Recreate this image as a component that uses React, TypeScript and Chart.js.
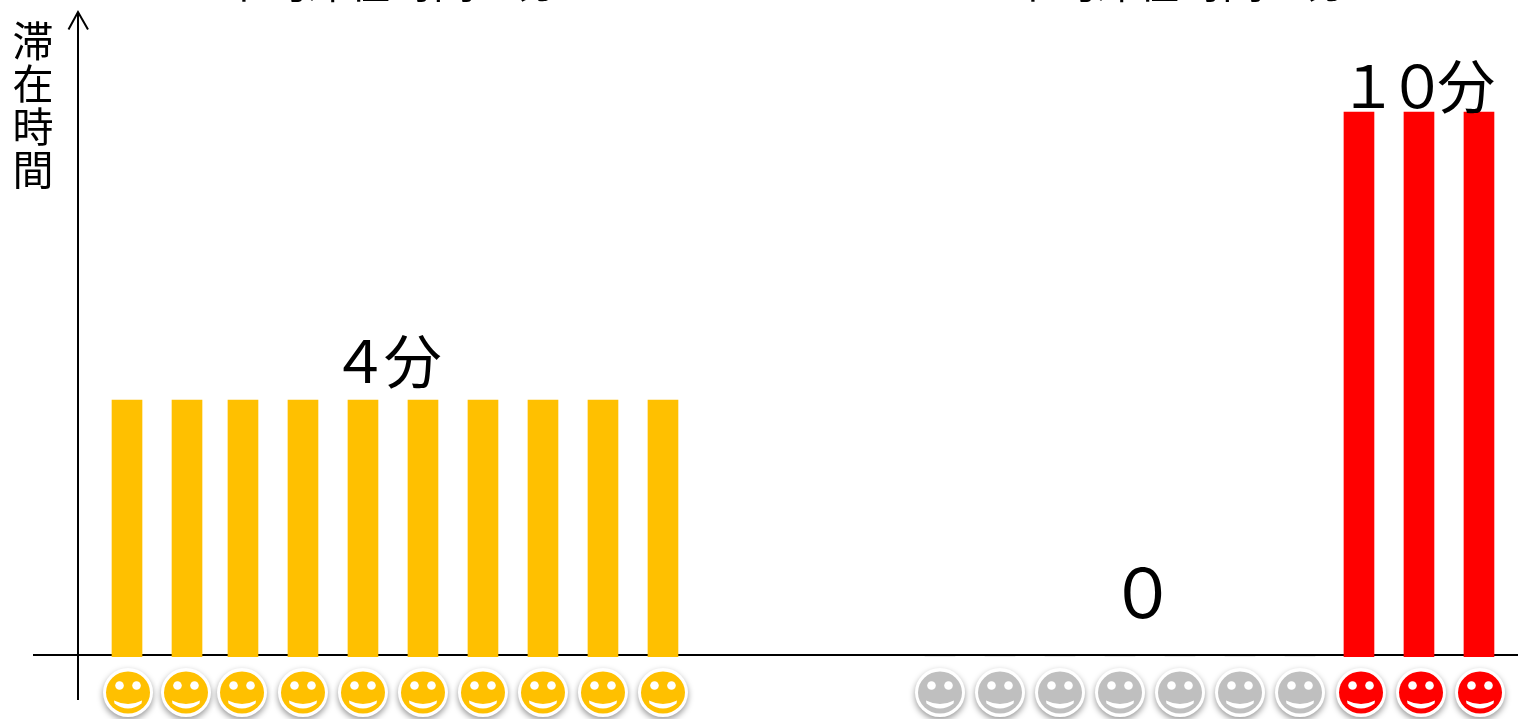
import React, { useEffect, useRef } from "react";
import { Chart, registerables } from "chart.js";

Chart.register(...registerables);

// Visitor positions along the horizontal axis, one unit per regular seat spacing.
const visitorSlots = [
  0, 1, 1.933, 2.933, 3.933, 4.933, 5.933, 6.933, 7.933, 8.933,
  13.55, 14.55, 15.55, 16.55, 17.55, 18.55, 19.55,
  20.533, 21.533, 22.533,
];
const stayMinutes = [
  4, 4, 4, 4, 4, 4, 4, 4, 4, 4,
  0, 0, 0, 0, 0, 0, 0,
  10, 10, 10,
];
const GOLD = "#FFC000";
const GRAY = "#BFBFBF";
const RED = "#FF0000";
const visitorColors = [
  GOLD, GOLD, GOLD, GOLD, GOLD, GOLD, GOLD, GOLD, GOLD, GOLD,
  GRAY, GRAY, GRAY, GRAY, GRAY, GRAY, GRAY,
  RED, RED, RED,
];
const faceSlots = [
  0.017, 0.983, 1.917, 2.933, 3.933, 4.933, 5.933, 6.933, 7.933, 8.933,
  13.55, 14.55, 15.55, 16.55, 17.55, 18.55, 19.55,
  20.567, 21.567, 22.55,
];

// Value captions over each group.
const captionTexts = ["４分", "０", "１０分"];
const captionSlots = [4.28, 16.93, 21.43];
const captionValues = [4, 0, 10];
const captionFonts = [58, 68, 58];
const captionLifts = [10, 31, -3];
const captionTracking = ["-5px", "0px", "-9px"];

const axisTitle = ["滞", "在", "時", "間"];
const groupHeadings = ["平均滞在時間４分", "平均滞在時間４分"];
const headingSlots = [4.4, 17.55];

const CJK = '"Noto Sans CJK JP", "Noto Sans", sans-serif';

function drawFace(ctx: CanvasRenderingContext2D, x: number, color: string) {
  const y = 692.5;
  ctx.save();
  ctx.shadowColor = "rgba(0,0,0,0.4)";
  ctx.shadowBlur = 6;
  ctx.shadowOffsetY = 3;
  ctx.fillStyle = "#FFFFFF";
  ctx.beginPath();
  ctx.ellipse(x, y, 25, 24.5, 0, 0, Math.PI * 2);
  ctx.fill();
  ctx.restore();

  ctx.fillStyle = color;
  ctx.beginPath();
  ctx.ellipse(x, y, 22, 21, 0, 0, Math.PI * 2);
  ctx.fill();

  ctx.fillStyle = "#FFFFFF";
  for (const dx of [-8.5, 8.5]) {
    ctx.beginPath();
    ctx.arc(x + dx, y - 7, 4.3, 0, Math.PI * 2);
    ctx.fill();
  }
  ctx.beginPath();
  ctx.moveTo(x - 14, y + 8);
  ctx.quadraticCurveTo(x, y + 15, x + 14, y + 8);
  ctx.lineTo(x + 13.5, y + 11);
  ctx.quadraticCurveTo(x, y + 21, x - 13.5, y + 11);
  ctx.closePath();
  ctx.fill();
}

const axesPlugin = {
  id: "crossedArrowAxes",
  beforeDatasetsDraw(chart: Chart) {
    const { ctx } = chart;
    ctx.save();
    ctx.strokeStyle = "#000000";
    ctx.lineWidth = 2;
    ctx.beginPath();
    ctx.moveTo(33, 655);
    ctx.lineTo(1518, 655);
    ctx.moveTo(78, 700);
    ctx.lineTo(78, 12);
    ctx.moveTo(68.5, 29.5);
    ctx.lineTo(78, 12);
    ctx.lineTo(88, 29.5);
    ctx.stroke();
    ctx.restore();
  },
};

const annotationPlugin = {
  id: "facesAndCaptions",
  afterDatasetsDraw(chart: Chart) {
    const { ctx, scales } = chart;
    const xs = scales.x;
    const ys = scales.y;
    ctx.save();
    faceSlots.forEach((slot, i) => drawFace(ctx, xs.getPixelForValue(slot), visitorColors[i]));

    ctx.fillStyle = "#000000";
    ctx.textAlign = "center";
    ctx.textBaseline = "bottom";
    captionTexts.forEach((text, i) => {
      (ctx as any).letterSpacing = captionTracking[i];
      ctx.font = `${captionFonts[i]}px ${CJK}`;
      ctx.fillText(
        text,
        xs.getPixelForValue(captionSlots[i]),
        ys.getPixelForValue(captionValues[i]) - captionLifts[i]
      );
    });
    (ctx as any).letterSpacing = "0px";

    ctx.font = `41px ${CJK}`;
    ctx.textBaseline = "middle";
    axisTitle.forEach((ch, i) => ctx.fillText(ch, 33, 40 + i * 43));

    ctx.font = `42px ${CJK}`;
    ctx.textBaseline = "alphabetic";
    groupHeadings.forEach((text, i) => {
      ctx.fillText(text, xs.getPixelForValue(headingSlots[i]), -2);
    });
    ctx.restore();
  },
};

export default function App() {
  const canvasRef = useRef<HTMLCanvasElement | null>(null);

  useEffect(() => {
    const canvas = canvasRef.current;
    if (!canvas) return;
    const chart = new Chart(canvas, {
      type: "bar",
      data: {
        datasets: [
          {
            data: visitorSlots.map((x, i) => ({ x, y: stayMinutes[i] })),
            backgroundColor: visitorColors,
            borderWidth: 0,
            barThickness: 30,
          },
        ],
      },
      options: {
        responsive: false,
        animation: false,
        layout: { padding: { bottom: 62 } },
        plugins: { legend: { display: false }, tooltip: { enabled: false } },
        scales: {
          x: { type: "linear", display: false, offset: false, bounds: "data", min: -2.1167, max: 23.1833 },
          // The time axis is schematic: a log scale keeps both stated durations at their heights.
          y: { type: "logarithmic", display: false, bounds: "data", min: 1.766, max: 14.28 },
        },
      },
      plugins: [axesPlugin, annotationPlugin],
    });
    return () => chart.destroy();
  }, []);

  return (
    <div style={{ position: "absolute", left: 0, top: 0, width: 1518, height: 719, background: "#FFFFFF", overflow: "hidden" }}>
      <canvas ref={canvasRef} width={1518} height={719} style={{ display: "block" }} />
    </div>
  );
}
